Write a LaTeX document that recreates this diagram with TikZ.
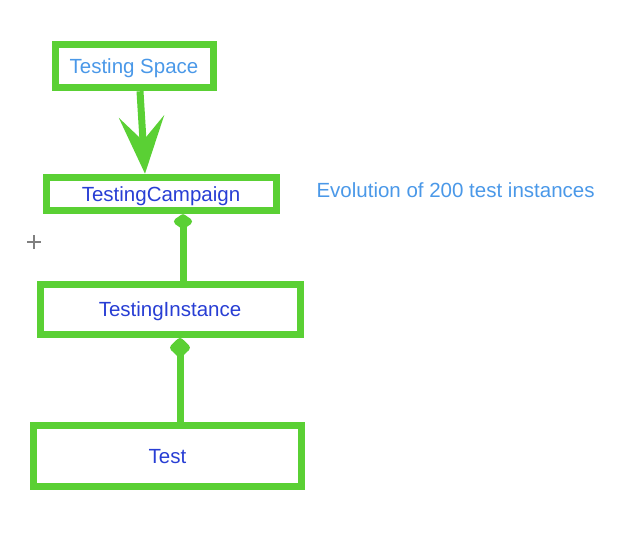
\documentclass[tikz,border=0pt]{standalone}
\usepackage{fontspec}
\setmainfont{Liberation Sans}
\usetikzlibrary{arrows.meta,positioning}
\definecolor{boxgreen}{RGB}{90,208,52}
\definecolor{lightblue}{RGB}{74,152,232}
\definecolor{darkblue}{RGB}{40,62,212}

\begin{document}
\begin{tikzpicture}[x=1pt,y=-1pt,
		box/.style={draw=boxgreen,line width=7pt,rectangle,inner sep=0pt,text depth=0pt,
			font=\fontsize{20.5}{24}\selectfont,text=darkblue},
		link/.style={draw=boxgreen,line width=7pt},
		aggr/.style={link,{Diamond[length=#1,width=23pt,round]}-}]
		\useasboundingbox (0,0) rectangle (632,537);

		\draw (134,66) node [box,minimum width=158pt,minimum height=43.5pt,text=lightblue] (ts){Testing Space};
		\draw (161,194) node [box,minimum width=230pt,minimum height=33.5pt] (tc){TestingCampaign};
		\draw (170,309.5) node [box,minimum width=260pt,minimum height=50pt] (ti){TestingInstance};
		\draw (167.5,456) node [box,minimum width=268pt,minimum height=61pt] (t){Test};

		\draw (313,190) node [anchor=west,font=\fontsize{20.5}{24}\selectfont,text=lightblue] (evo){Evolution of 200 test instances};

		\draw
		([xshift=6pt]ts.south) edge [link,-{Stealth[length=57pt,width=45pt,inset=24pt]}] ([xshift=-16pt]tc.north)
		([xshift=22pt]tc.south) edge [aggr=16pt] ([xshift=13pt]ti.north)
		([xshift=10pt]ti.south) edge [aggr=22pt] ([xshift=12.5pt]t.north);

		% cursor mark
		\coordinate (cur) at (34,242);
		\draw [gray,line width=1.5pt] ([xshift=-7pt]cur) -- ([xshift=7pt]cur)
			([yshift=-7pt]cur) -- ([yshift=7pt]cur);
	\end{tikzpicture}
\end{document}
